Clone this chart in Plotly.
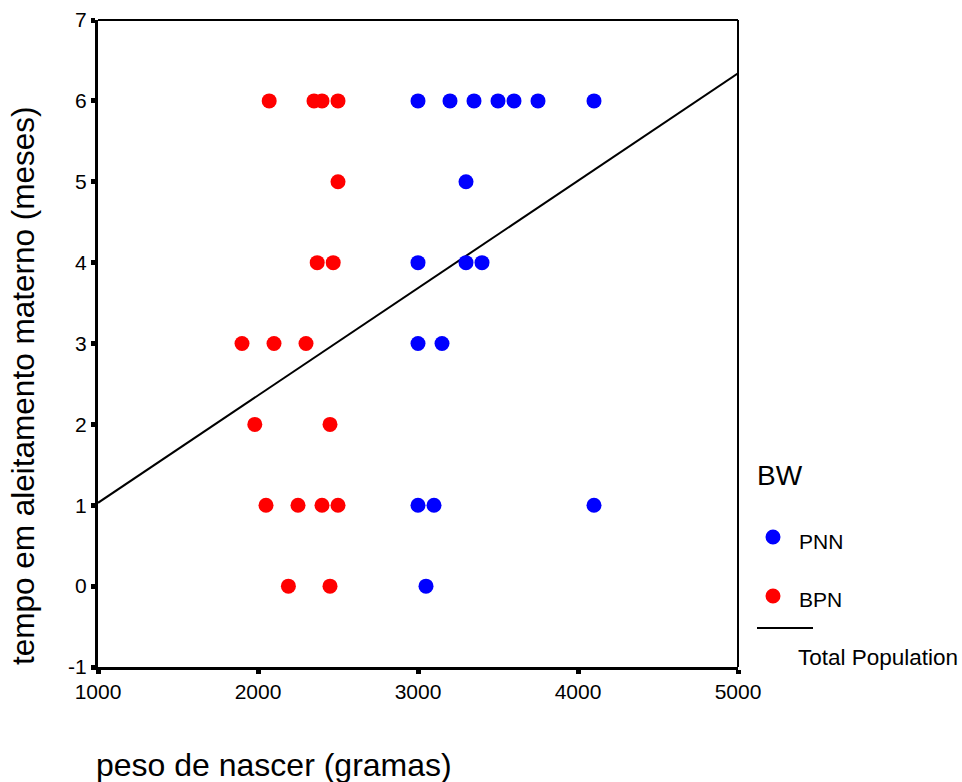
import plotly.graph_objects as go

# PNN (normal birth weight) points
pnn_x = [3000, 3200, 3350, 3500, 3600, 3750, 4100,
         3300,
         3000, 3300, 3400,
         3000, 3150,
         3000, 3100, 4100,
         3050]
pnn_y = [6, 6, 6, 6, 6, 6, 6,
         5,
         4, 4, 4,
         3, 3,
         1, 1, 1,
         0]

# BPN (low birth weight) points
bpn_x = [2070, 2350, 2400, 2500,
         2500,
         2370, 2470,
         1900, 2100, 2300,
         1980, 2450,
         2050, 2250, 2400, 2500,
         2190, 2450]
bpn_y = [6, 6, 6, 6,
         5,
         4, 4,
         3, 3, 3,
         2, 2,
         1, 1, 1, 1,
         0, 0]

# Total population fit line
fit_x = [1000, 5000]
fit_y = [1.03, 6.34]

x_ticks = [1000, 2000, 3000, 4000, 5000]
y_ticks = [-1, 0, 1, 2, 3, 4, 5, 6, 7]

FONT = "Liberation Sans, Arial, sans-serif"

PL, PT, PW, PH = 98, 20, 640, 647  # plot area in window pixels
W, H = 962, 782

fig = go.Figure()
fig.add_trace(go.Scatter(x=fit_x, y=fit_y, mode="lines",
                         line=dict(color="black", width=2), showlegend=False))
fig.add_trace(go.Scatter(x=pnn_x, y=pnn_y, mode="markers",
                         marker=dict(color="#0000ff", size=15), showlegend=False))
fig.add_trace(go.Scatter(x=bpn_x, y=bpn_y, mode="markers",
                         marker=dict(color="#ff0000", size=15), showlegend=False))

fig.update_xaxes(range=[1000, 5000], tickvals=x_ticks, ticktext=[str(v) for v in x_ticks],
                 showgrid=False, zeroline=False, showline=True, linecolor="black", linewidth=3,
                 mirror=False, ticks="outside", ticklen=4, tickwidth=5, tickcolor="black",
                 tickfont=dict(family=FONT, size=21, color="black"))
fig.update_yaxes(range=[-1, 7], tickvals=y_ticks, ticktext=[str(v) for v in y_ticks],
                 showgrid=False, zeroline=False, showline=True, linecolor="black", linewidth=3,
                 mirror=False, ticks="outside", ticklen=4, tickwidth=5, tickcolor="black",
                 tickfont=dict(family=FONT, size=21, color="black"))


def px(xp):
    return (xp - PL) / PW


def py(yp):
    return (PT + PH - yp) / PH


shapes = [
    dict(type="line", xref="paper", yref="paper", x0=0, x1=1, y0=1, y1=1,
         line=dict(color="black", width=2)),
    dict(type="line", xref="paper", yref="paper", x0=1, x1=1, y0=0, y1=1,
         line=dict(color="black", width=2)),
    dict(type="line", xref="paper", yref="paper", x0=px(757), x1=px(813),
         y0=py(628), y1=py(628), line=dict(color="black", width=2)),
    dict(type="circle", xref="paper", yref="paper",
         x0=px(773 - 7.5), x1=px(773 + 7.5), y0=py(537 + 7.5), y1=py(537 - 7.5),
         fillcolor="#0000ff", line=dict(width=0)),
    dict(type="circle", xref="paper", yref="paper",
         x0=px(773 - 7.5), x1=px(773 + 7.5), y0=py(596 + 7.5), y1=py(596 - 7.5),
         fillcolor="#ff0000", line=dict(width=0)),
]

annotations = [
    dict(text="BW", x=px(755), y=py(476), xref="paper", yref="paper",
         xanchor="left", yanchor="middle", showarrow=False,
         font=dict(family=FONT, size=28, color="black")),
    dict(text="PNN", x=px(797), y=py(541), xref="paper", yref="paper",
         xanchor="left", yanchor="middle", showarrow=False,
         font=dict(family=FONT, size=21, color="black")),
    dict(text="BPN", x=px(797), y=py(599), xref="paper", yref="paper",
         xanchor="left", yanchor="middle", showarrow=False,
         font=dict(family=FONT, size=21, color="black")),
    dict(text="Total Population", x=px(796), y=py(657), xref="paper", yref="paper",
         xanchor="left", yanchor="middle", showarrow=False,
         font=dict(family=FONT, size=22.5, color="black")),
    dict(text="peso de nascer (gramas)", x=px(94), y=py(765), xref="paper", yref="paper",
         xanchor="left", yanchor="middle", showarrow=False,
         font=dict(family=FONT, size=32, color="black")),
    dict(text="tempo em aleitamento materno (meses)", x=px(23), y=py(386),
         xref="paper", yref="paper", xanchor="center", yanchor="middle",
         textangle=-90, showarrow=False,
         font=dict(family=FONT, size=31.5, color="black")),
]

fig.update_layout(
    width=W, height=H,
    margin=dict(l=PL, r=W - PL - PW, t=PT, b=H - PT - PH, autoexpand=False),
    paper_bgcolor="white", plot_bgcolor="white",
    shapes=shapes, annotations=annotations, showlegend=False,
)

fig.write_html("out.html", config={"displayModeBar": False},
               post_script="document.body.style.margin='0';document.body.style.overflow='hidden';")
